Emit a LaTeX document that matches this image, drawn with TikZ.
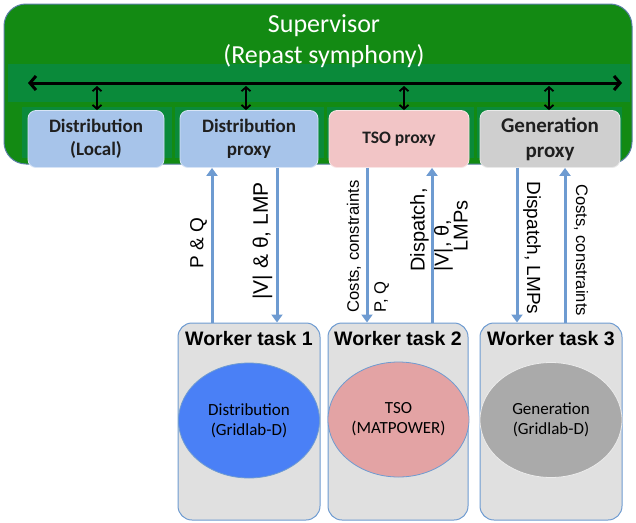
\documentclass[tikz,border=0pt]{standalone}
\usepackage{fontspec}
\setmainfont{Carlito}
\newfontfamily\arialfont{Liberation Sans}
\usetikzlibrary{arrows.meta,positioning,shapes.geometric}

\definecolor{supgreen}{HTML}{138A13}
\definecolor{bandgreen}{HTML}{0A8A3A}
\definecolor{supline}{HTML}{5B7FA6}
\definecolor{distfill}{HTML}{A7C4EA}
\definecolor{tsofill}{HTML}{F2C5C6}
\definecolor{genfill}{HTML}{CFCFCF}
\definecolor{workerfill}{HTML}{E0E0E0}
\definecolor{flowblue}{HTML}{6E9BD1}
\definecolor{ellblue}{HTML}{4A80F6}
\definecolor{ellpink}{HTML}{E3A3A4}
\definecolor{ellgray}{HTML}{AAAAAA}

\begin{document}
\begin{tikzpicture}[
    x=1pt, y=-1pt,
    proxy/.style={draw=white!55!#1, fill=#1, line width=0.8pt, rounded corners=8pt,
        minimum height=57pt, align=center, text=black!88,
        font=\bfseries\fontsize{19}{23}\selectfont},
    worker/.style={draw=flowblue, fill=workerfill, line width=1pt, rounded corners=14pt,
        minimum width=142pt, minimum height=197pt},
    title/.style={anchor=base, font=\arialfont\bfseries\fontsize{19.5}{22}\selectfont},
    model/.style={ellipse, draw=flowblue, fill=#1, line width=0.8pt, inner sep=0pt,
        minimum width=141pt, minimum height=115pt, align=center,
        font=\fontsize{17}{20}\selectfont},
    flow/.style={draw=flowblue, line width=3pt, -{Triangle[width=11pt,length=8pt]}},
    lbl/.style={align=left, inner sep=0pt},
    bus/.style={line width=3pt, {Straight Barb[length=6pt,width=14pt]}-{Straight Barb[length=6pt,width=14pt]}},
    link/.style={line width=1.8pt, {Straight Barb[length=4pt,width=9pt]}-{Straight Barb[length=4pt,width=9pt]}}
]
    \useasboundingbox (0,0) rectangle (636,522);

    \node [draw=supline, fill=supgreen, line width=1pt, rounded corners=22pt,
           minimum width=628pt, minimum height=160pt] (supervisor) at (318,84) {};
    \fill [bandgreen] (8,64) rectangle (630,102);
    \fill [bandgreen] (22,107) rectangle (172,158);
    \fill [bandgreen] (175,107) rectangle (324,158);
    \fill [bandgreen] (327,107) rectangle (474,158);
    \fill [bandgreen] (477,107) rectangle (622,158);
    \node [text=white, align=center, font=\fontsize{26}{31}\selectfont] (suptitle) at (324,41)
        {Supervisor\\(Repast symphony)};

    \node [proxy=distfill, minimum width=136pt] (dlocal) at (96,139) {Distribution\\(Local)};
    \node [proxy=distfill, minimum width=138pt] (dproxy) at (249,139) {Distribution\\proxy};
    \node [proxy=tsofill, minimum width=140pt, font=\bfseries\fontsize{17.5}{21}\selectfont] (tproxy) at (399,139) {TSO proxy};
    \node [proxy=genfill, minimum width=140pt, font=\bfseries\fontsize{21}{25}\selectfont] (gproxy) at (550,139) {Generation\\proxy};

    \coordinate (bus-w) at (28,83);
    \coordinate (bus-e) at (622,83);
    \draw [bus] (bus-w) -- (bus-e);
    \foreach \x/\n in {97/dlocal,246/dproxy,404/tproxy,549/gproxy}
        \draw [link] ([yshift=-3pt]bus-w -| \x,0) -- (\n.north -| \x,0);

    \node [worker] (w1) at (249,421.5) {};
    \node [worker, minimum width=140pt] (w2) at (398,421.5) {};
    \node [worker] (w3) at (551,421.5) {};
    \node [title] (t1) at ([yshift=-23pt]w1.north) {Worker task 1};
    \node [title] (t2) at ([yshift=-23pt]w2.north) {Worker task 2};
    \node [title] (t3) at ([yshift=-23pt]w3.north) {Worker task 3};

    \node [model=ellblue] (e1) at (249,420.5) {Distribution\\(Gridlab-D)};
    \node [model=ellpink] (e2) at (398.5,419.5) {TSO\\(MATPOWER)};
    \node [model=ellgray, draw=white!85!gray, minimum width=142pt] (e3) at (551,420) {Generation\\(Gridlab-D)};

    \draw [flow] (w1.north -| 212,0) -- (dproxy.south -| 212,0);
    \draw [flow] (dproxy.south -| 277,0) -- (w1.north -| 277,0);
    \draw [flow] (tproxy.south -| 367,0) -- (w2.north -| 367,0);
    \draw [flow] (w2.north -| 432,0) -- (tproxy.south -| 432,0);
    \draw [flow] (gproxy.south -| 517,0) -- (w3.north -| 517,0);
    \draw [flow] (w3.north -| 565,0) -- (gproxy.south -| 565,0);

    \node [lbl, rotate=90, font=\arialfont\fontsize{19}{22}\selectfont] (pq) at (198.5,243) {P \& Q};
    \node [lbl, rotate=90, font=\arialfont\fontsize{21}{24}\selectfont] (vlmp) at (262.5,241) {|V| \& θ, LMP};
    \node [lbl, rotate=90, font=\arialfont\fontsize{16.6}{20}\selectfont] (tcost) at (368,246.5) {Costs, constraints\\[7pt]P, Q};
    \node [lbl, rotate=90, font=\arialfont\fontsize{20}{19}\selectfont] (tdisp) at (439,230) {Dispatch,\\[5pt]|V|, θ,\\\hspace*{20pt}LMPs};
    \node [lbl, rotate=-90, font=\arialfont\fontsize{19}{22}\selectfont] (gdisp) at (532,248) {Dispatch, LMPs};
    \node [lbl, rotate=-90, font=\arialfont\fontsize{16.6}{20}\selectfont] (gcost) at (581,250) {Costs, constraints};
\end{tikzpicture}
\end{document}
